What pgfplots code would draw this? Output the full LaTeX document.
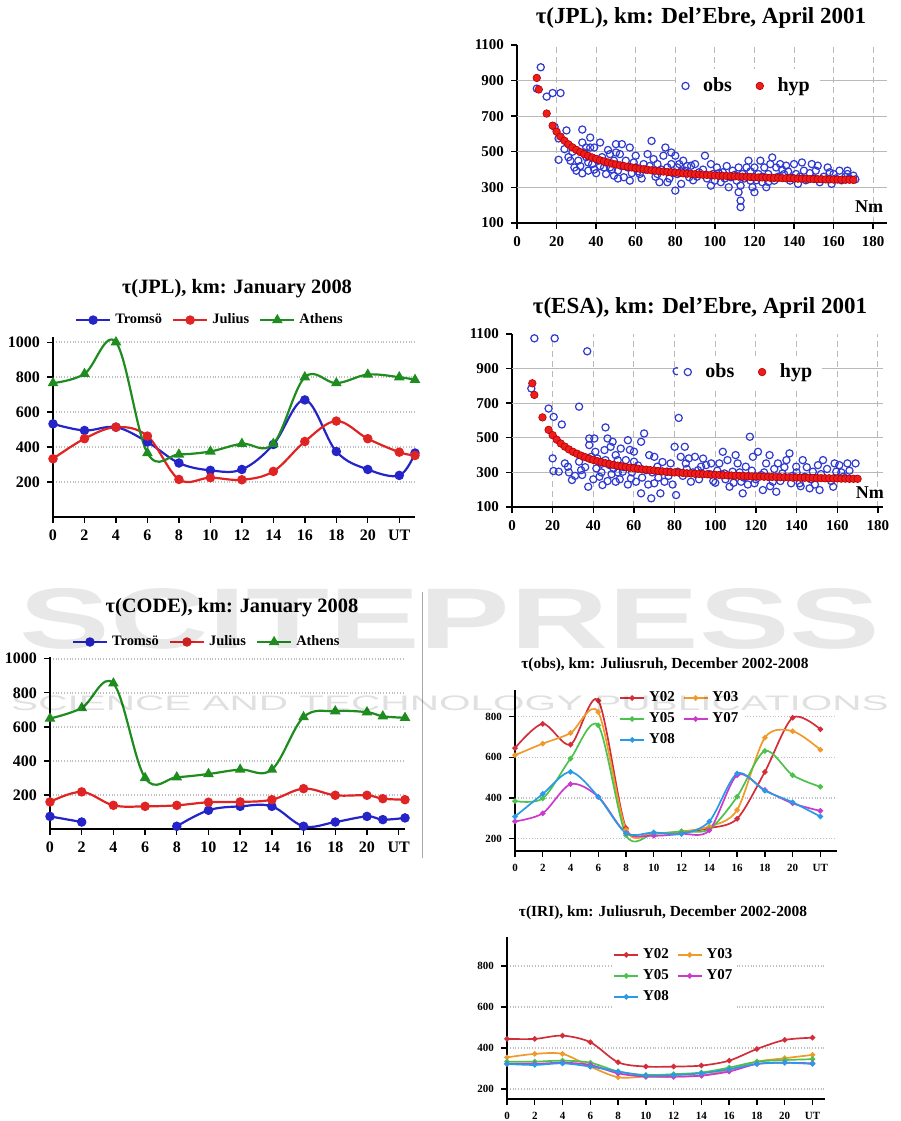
\documentclass[border=0pt]{standalone}
\usepackage{fontspec}
\setmainfont{Liberation Serif}
\setsansfont{Liberation Sans}
\usepackage{pgfplots}
\pgfplotsset{compat=1.18}

\definecolor{obsblue}{HTML}{2F3BD0}
\definecolor{hypred}{HTML}{EE1C1C}
\definecolor{trblue}{HTML}{2424C8}
\definecolor{jured}{HTML}{E02424}
\definecolor{atgreen}{HTML}{1E8C1E}
\definecolor{yo2}{HTML}{D22E3A}
\definecolor{yo3}{HTML}{F09A2A}
\definecolor{yo5}{HTML}{4CC24C}
\definecolor{yo7}{HTML}{CC3ACC}
\definecolor{yo8}{HTML}{2A9AE6}

\pgfplotsset{
  base/.style={
    scale only axis, anchor=south west, clip=false,
    axis lines*=left,
    axis line style={black, line width=0.9pt},
    tick style={black, line width=0.7pt},
    tick align=outside, major tick length=3pt,
    /pgf/number format/assume math mode=true,
    /pgf/number format/1000 sep={},
  },
  scat/.style={
    base,
    xmin=0, xmax=187, ymin=100, ymax=1100,
    xtick={0,20,...,180}, ytick={100,1100},
    extra y ticks={300,500,700,900},
    extra y tick style={grid=major, major grid style={solid, gray!55, line width=0.6pt}},
    xmajorgrids, major grid style={densely dashed, gray!55, line width=0.5pt},
    tick label style={font=\bfseries\fontsize{7.5}{8}\selectfont},
    legend columns=2,
    legend style={draw=none, fill=white, font=\bfseries\fontsize{10}{11}\selectfont,
      /tikz/every odd column/.append style={column sep=5pt},
      /tikz/every even column/.append style={column sep=10pt}},
  },
  obs/.style={only marks, mark=o, mark size=1.8pt, obsblue, mark options={line width=0.6pt}},
  hyp/.style={only marks, mark=*, mark size=1.9pt, mark options={fill=hypred, draw=red!70!black, line width=0.3pt}},
  uta/.style={
    base,
    xmin=0, xtick={0,2,...,22},
    xticklabels={0,2,4,6,8,10,12,14,16,18,20,UT},
    ymajorgrids, major grid style={densely dotted, gray!50, line width=0.8pt},
    tick label style={font=\bfseries\fontsize{8}{9}\selectfont},
    legend columns=3,
    legend style={draw=none, fill=none, anchor=center, font=\bfseries\fontsize{7.2}{8}\selectfont,
      /tikz/every even column/.append style={column sep=3pt}},
  },
  jul/.style={
    base,
    xmin=0, xtick={0,2,...,22},
    xticklabels={0,2,4,6,8,10,12,14,16,18,20,UT},
    ytick={200,400,600,800},
    ymajorgrids, major grid style={densely dotted, gray!50, line width=0.6pt},
    tick label style={font=\bfseries\fontsize{5.5}{6}\selectfont},
    legend columns=2,
    legend image code/.code={\draw[mark repeat=2, mark phase=2] plot coordinates {(0cm,0cm) (0.21cm,0cm) (0.42cm,0cm)};},
    legend style={draw=none, fill=white, inner sep=0.5pt, anchor=center,
      font=\bfseries\fontsize{7.5}{8.5}\selectfont,
      /tikz/every even column/.append style={column sep=2pt}},
  },
  st/.style={smooth, tension=0.6, line width=1.1pt, mark size=1.8pt},
  yr/.style={smooth, tension=0.5, line width=0.85pt, mark=*, mark size=0.9pt},
}

\begin{document}
\begin{tikzpicture}
\useasboundingbox (0,0) rectangle (450.5pt,560.5pt);

\draw[gray!70, line width=0.5pt] (211pt,131.5pt) -- (211pt,264.5pt);

% ---------- tau(JPL), Del'Ebre
\begin{axis}[scat, at={(258.5pt,449pt)}, width=185pt, height=89pt,
  legend style={at={(0.624,0.77)}, anchor=center}]
\addplot[obs] coordinates {
(10,855) (12,975) (15,810) (18,830) (22,830) (19,640) (21,575) (21,455) (25,620) (24,515)
(27,450) (29,412) (33,625) (33,552) (34,496) (35,524) (37,580) (37,524) (39,524) (42,552)
(30,394) (33,379) (36,394) (38,431) (41,450) (44,412) (45,375) (47,412) (49,450) (50,543)
(50,496) (52,487) (53,543) (47,487) (49,366) (51,394) (54,357) (56,412) (57,338) (57,524)
(60,478) (60,412) (62,375) (64,431) (66,487) (68,561) (69,459) (71,431) (71,375) (72,329)
(74,478) (75,524) (76,329) (76,412) (78,431) (78,496) (80,282) (80,478) (81,412) (81,375)
(82,431) (83,320) (84,450) (85,394) (87,357) (88,422) (90,431) (92,385) (95,478) (98,431)
(98,310) (99,375) (100,338) (101,412) (103,329) (104,385) (107,301) (108,357) (109,394) (111,338)
(112,412) (112,273) (113,226) (113,189) (113,310) (114,375) (116,412) (117,450) (118,338) (119,301)
(120,412) (120,273) (122,375) (123,450) (124,329) (125,412) (126,301) (127,375) (128,431) (129,468)
(130,338) (131,412) (133,431) (135,375) (136,422) (138,338) (140,431) (141,375) (142,320) (144,440)
(145,394) (149,431) (151,394) (152,422) (153,329) (157,412) (159,320) (160,375) (163,394) (167,375)
(167,394) (170,366)
(26,470) (28,500) (31,450) (32,420) (35,470) (36,440) (39,400) (40,380) (42,420) (43,470)
(45,440) (46,510) (48,400) (51,350) (53,420) (55,450) (58,380) (59,440) (61,390) (63,350)
(65,400) (67,420) (70,360) (73,400) (77,350) (79,380) (83,390) (86,420) (89,340) (91,360)
(94,400) (96,350) (102,380) (105,350) (106,420) (110,370) (115,350) (118,390) (121,340) (124,360)
(127,330) (132,360) (134,400) (137,390) (139,355) (143,360) (146,340) (148,380) (150,350) (155,360)
(158,385) (161,350) (164,340) (166,360) (168,350) (171,345)
};
\addlegendentry{obs}
\addplot[hyp] coordinates {
(10,915) (11,850) (15,715) (18,647) (20,613) (22,585) (24,562) (26,542) (28,525) (30,511)
(32,498) (34,487) (36,477) (38,468) (40,460) (42,452) (44,446) (46,440) (48,434) (50,429)
(52,424) (54,420) (56,416) (58,412) (60,408) (62,405) (64,402) (66,399) (68,396) (70,394)
(72,391) (74,389) (76,387) (78,385) (80,383) (82,381) (84,379) (86,377) (88,376) (90,374)
(92,373) (94,371) (96,370) (98,369) (100,367) (102,366) (104,365) (106,364) (108,363) (110,362)
(112,361) (114,360) (116,359) (118,358) (120,357) (122,356) (124,356) (126,355) (128,354) (130,353)
(132,353) (134,352) (136,351) (138,351) (140,350) (142,349) (144,349) (146,348) (148,347) (150,347)
(152,346) (154,346) (156,345) (158,345) (160,344) (162,344) (164,343) (166,343) (168,343) (170,342)
};
\addlegendentry{hyp}
\node[font=\bfseries\fontsize{9}{10}\selectfont] at (axis cs:178,190) {Nm};
\end{axis}

% ---------- tau(ESA), Del'Ebre
\begin{axis}[scat, at={(256pt,307pt)}, width=185.5pt, height=86.5pt, xmax=182.5,
  legend style={at={(0.642,0.78)}, anchor=center}]
\addplot[obs] coordinates {
(11,1075) (21,1075) (37,1000) (9.5,785) (33,680) (81,885) (82,615) (18,669) (20.5,621) (24.5,577)
(20,381) (20.4,308) (23,304) (26,352) (27.5,333) (29.5,256) (33,362) (34,313) (34.5,285) (37.5,217)
(38,458) (38,496) (40.5,496) (41,419) (39,390) (41.5,323) (43,275) (44.5,227) (45.5,429) (46,560)
(46,371) (47,496) (48,342) (48.5,448) (49.5,477) (50,323) (51,400) (51,246) (52,371) (53.5,438)
(54.5,304) (56,371) (57,486) (58.5,265) (60,362) (61,246) (63.5,477) (65,525) (63.5,179) (66,313)
(67.5,400) (68.5,150) (70,390) (70,237) (71.5,333) (73,179) (75,246) (76.5,304) (78,352) (80,448)
(80.7,169) (81.5,304) (83,390) (85,448) (85.5,352) (87,381) (88,246) (90,390) (91.5,313) (93,333)
(95.5,342) (98,352) (100,240) (102,352) (103.7,419) (104.5,294) (106,371) (107,217) (108.5,304) (110,400)
(111,352) (112.7,246) (113.5,179) (115,333) (117,506) (118.5,390) (119.3,237) (121,419) (122.6,285) (123.4,198)
(125,352) (126.7,400) (128.3,246) (130,188) (130.8,352) (133,294) (135,371) (136.5,410) (137.3,237) (139.8,333)
(141.5,237) (143,371) (144,275) (146.4,208) (148,304) (150.5,342) (151.3,198) (153,371) (158,217) (158.7,352)
(161,342) (165,352) (169,352) (159.5,304) (163,275)
(28,300) (31,280) (36,330) (40,260) (42,380) (44,300) (47,250) (49,290) (53,260) (55,330)
(57,230) (59,300) (62,340) (64,270) (67,230) (69,300) (72,270) (74,360) (77,280) (79,230)
(84,280) (86,320) (89,300) (92,260) (94,380) (97,290) (99,250) (101,310) (105,260) (109,240)
(112,300) (114,270) (116,230) (118,310) (120,260) (124,300) (127,220) (129,320) (132,250) (134,330)
(138,280) (140,300) (142,220) (145,330) (147,260) (149,230) (152,290) (155,320) (157,250) (162,300)
(166,310) (60,420) (44,350) (52,300) (58,430)
};
\addlegendentry{obs}
\addplot[hyp] coordinates {
(10,815) (11,748) (15,618) (18,546) (20,515) (22,489) (24,467) (26,449) (28,433) (30,419)
(32,408) (34,397) (36,388) (38,379) (40,372) (42,365) (44,359) (46,353) (48,348) (50,343)
(52,339) (54,335) (56,331) (58,327) (60,324) (62,321) (64,318) (66,316) (68,313) (70,311)
(72,308) (74,306) (76,304) (78,302) (80,300) (82,299) (84,297) (86,295) (88,294) (90,292)
(92,291) (94,290) (96,289) (98,287) (100,286) (102,285) (104,284) (106,283) (108,282) (110,281)
(112,280) (114,279) (116,278) (118,277) (120,277) (122,276) (124,275) (126,274) (128,274) (130,273)
(132,272) (134,272) (136,271) (138,270) (140,270) (142,269) (144,269) (146,268) (148,268) (150,267)
(152,267) (154,266) (156,266) (158,265) (160,265) (162,264) (164,264) (166,263) (168,263) (170,263)
};
\addlegendentry{hyp}
\node[font=\bfseries\fontsize{9}{10}\selectfont] at (axis cs:176,181) {Nm};
\end{axis}

% ---------- tau(JPL), January 2008
\begin{axis}[uta, at={(26.5pt,302pt)}, width=181pt, height=90pt,
  xmax=23, ymin=0, ymax=1030, ytick={200,400,...,1000},
  legend style={at={(0.436,1.094)}}]
\addplot[st, trblue, mark=*] coordinates {
(0,533) (2,495) (4,514) (6,429) (8,309) (10,267) (12,272) (14,415) (16,670) (18,375) (20,272) (22,238) (23,366)};
\addlegendentry{Tromsö}
\addplot[st, jured, mark=*] coordinates {
(0,333) (2,448) (4,514) (6,463) (8,215) (10,225) (12,213) (14,261) (16,432) (18,549) (20,448) (22,371) (23,352)};
\addlegendentry{Julius}
\addplot[st, atgreen, mark=triangle*, mark size=2pt] coordinates {
(0,766) (2,819) (4,1000) (6,366) (8,358) (10,375) (12,419) (14,419) (16,800) (18,766) (20,815) (22,800) (23,785)};
\addlegendentry{Athens}
\end{axis}

% ---------- tau(CODE), January 2008
\begin{axis}[uta, at={(25pt,146pt)}, width=177.5pt, height=86pt,
  xmax=22.4, ymin=0, ymax=1010, ytick={200,400,...,1000},
  unbounded coords=jump,
  legend style={at={(0.444,1.087)}}]
\addplot[st, trblue, mark=*] coordinates {
(0,74) (2,41) (4,nan) (6,nan) (8,16) (10,110) (12,133) (14,133) (16,16) (18,41) (20,74) (21,55) (22.4,65)};
\addlegendentry{Tromsö}
\addplot[st, jured, mark=*] coordinates {
(0,159) (2,218) (4,139) (6,133) (8,139) (10,157) (12,159) (14,172) (16,237) (18,198) (20,198) (21,178) (22.4,172)};
\addlegendentry{Julius}
\addplot[st, atgreen, mark=triangle*, mark size=2pt] coordinates {
(0,649) (2,711) (4,855) (6,300) (8,304) (10,323) (12,349) (14,349) (16,657) (18,692) (20,686) (21,662) (22.4,653)};
\addlegendentry{Athens}
\end{axis}

% ---------- tau(obs), Juliusruh
\begin{axis}[jul, at={(257.5pt,135pt)}, width=161pt, height=80.5pt,
  xmax=23.2, ymin=140, ymax=930,
  legend style={at={(0.515,0.82)}}]
\addplot[yr, yo2] coordinates {
(0,645) (2,764) (4,662) (6,878) (8,252) (10,228) (12,232) (14,252) (16,298) (18,528) (20,794) (22,737)};
\addlegendentry{Y02}
\addplot[yr, yo3] coordinates {
(0,610) (2,667) (4,719) (6,821) (8,244) (10,228) (12,236) (14,260) (16,341) (18,696) (20,728) (22,637)};
\addlegendentry{Y03}
\addplot[yr, yo5] coordinates {
(0,385) (2,398) (4,593) (6,756) (8,218) (10,224) (12,236) (14,247) (16,406) (18,631) (20,512) (22,455)};
\addlegendentry{Y05}
\addplot[yr, yo7] coordinates {
(0,285) (2,325) (4,468) (6,406) (8,228) (10,215) (12,224) (14,241) (16,512) (18,439) (20,374) (22,337)};
\addlegendentry{Y07}
\addplot[yr, yo8] coordinates {
(0,309) (2,420) (4,528) (6,406) (8,228) (10,231) (12,224) (14,285) (16,520) (18,436) (20,379) (22,309)};
\addlegendentry{Y08}
\end{axis}

% ---------- tau(IRI), Juliusruh
\begin{axis}[jul, at={(253.5pt,11pt)}, width=159pt, height=81pt,
  xmax=22.9, ymin=151, ymax=941,
  legend style={at={(0.528,0.76)}}]
\addplot[yr, yo2] coordinates {
(0,444) (2,444) (4,460) (6,428) (8,330) (10,309) (12,309) (14,314) (16,338) (18,395) (20,439) (22,450)};
\addlegendentry{Y02}
\addplot[yr, yo3] coordinates {
(0,354) (2,371) (4,371) (6,309) (8,257) (10,260) (12,260) (14,265) (16,293) (18,333) (20,350) (22,366)};
\addlegendentry{Y03}
\addplot[yr, yo5] coordinates {
(0,333) (2,333) (4,338) (6,328) (8,285) (10,268) (12,272) (14,280) (16,304) (18,333) (20,341) (22,345)};
\addlegendentry{Y05}
\addplot[yr, yo7] coordinates {
(0,322) (2,322) (4,328) (6,317) (8,276) (10,260) (12,260) (14,265) (16,285) (18,322) (20,328) (22,325)};
\addlegendentry{Y07}
\addplot[yr, yo8] coordinates {
(0,322) (2,317) (4,325) (6,309) (8,285) (10,265) (12,268) (14,276) (16,296) (18,322) (20,328) (22,322)};
\addlegendentry{Y08}
\end{axis}

% titles
\node[font=\bfseries\fontsize{11.5}{12}\selectfont] at (350.5pt,551.5pt) {τ(JPL), km: Del'Ebre, April 2001};
\node[font=\bfseries\fontsize{11.5}{12}\selectfont] at (350pt,406.5pt) {τ(ESA), km: Del'Ebre, April 2001};
\node[font=\bfseries\fontsize{10.2}{11}\selectfont] at (118.5pt,416pt) {τ(JPL), km: January 2008};
\node[font=\bfseries\fontsize{10.2}{11}\selectfont] at (116pt,256.5pt) {τ(CODE), km: January 2008};
\node[font=\bfseries\fontsize{7.7}{8}\selectfont] at (332.5pt,228pt) {τ(obs), km: Juliusruh, December 2002-2008};
\node[font=\bfseries\fontsize{7.7}{8}\selectfont] at (331.5pt,104pt) {τ(IRI), km: Juliusruh, December 2002-2008};

% watermark on top, faint
\node[font=\sffamily\bfseries\fontsize{43}{45}\selectfont, text=black, text opacity=0.09] at (225pt,251pt) {\scalebox{1.58}[1]{SCITEPRESS}};
\node[font=\sffamily\fontsize{10.5}{11}\selectfont, text=black, text opacity=0.12] at (225pt,209pt) {\scalebox{1.93}[1]{SCIENCE AND TECHNOLOGY PUBLICATIONS}};
\end{tikzpicture}
\end{document}
